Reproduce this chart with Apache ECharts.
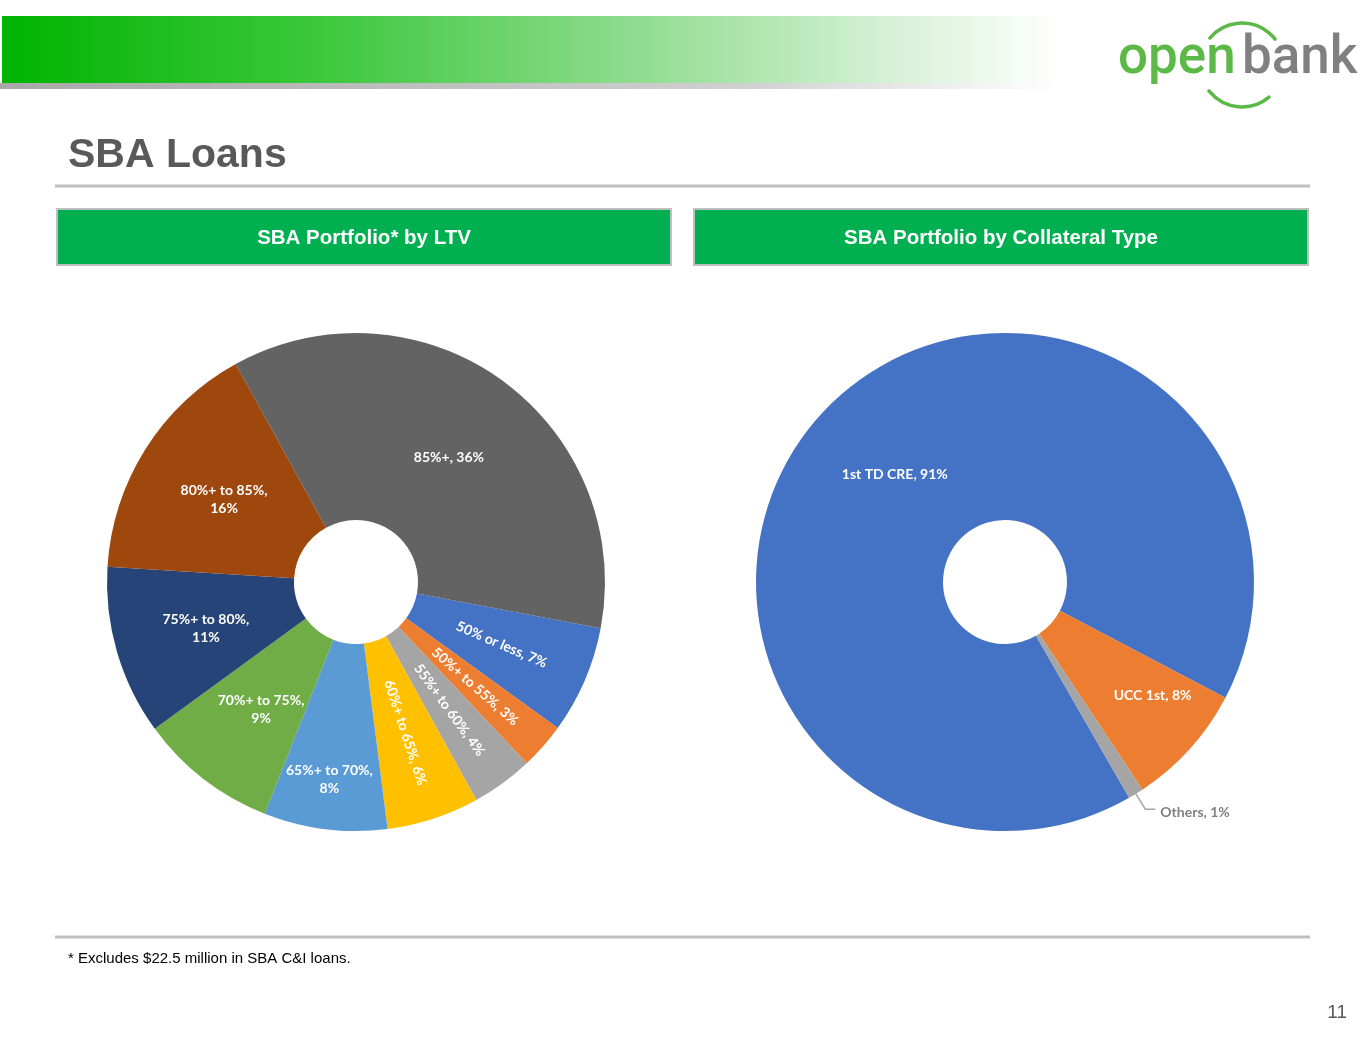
<!DOCTYPE html>
<html><head><meta charset="utf-8">
<script src="https://cdn.jsdelivr.net/npm/echarts@6/dist/echarts.min.js"></script>
<style>html,body{margin:0;padding:0;background:#fff}#c{width:1365px;height:1055px}</style>
</head><body><div id="c"></div>
<script>
// ---- data ----
const ltvCategories = ['50% or less', '50%+ to 55%', '55%+ to 60%', '60%+ to 65%', '65%+ to 70%', '70%+ to 75%', '75%+ to 80%', '80%+ to 85%', '85%+'];
const ltvValues = [7, 3, 4, 6, 8, 9, 11, 16, 36];
const collCategories = ['1st TD CRE', 'UCC 1st', 'Others'];
const collValues = [91, 8, 1];
const pageTitle = 'SBA Loans';
const leftTitle = 'SBA Portfolio* by LTV';
const rightTitle = 'SBA Portfolio by Collateral Type';
const footnote = '* Excludes $22.5 million in SBA C&I loans.';
const pageNumber = '11';

// ---- styles ----
const ltvColors = ['#4472C4', '#ED7D31', '#A5A5A5', '#FFC000', '#5B9BD5', '#70AD47', '#264478', '#9E480E', '#636363'];
const collColors = ['#4472C4', '#ED7D31', '#A5A5A5'];
const radialLabels = { '50% or less': 1, '50%+ to 55%': 1, '55%+ to 60%': 1, '60%+ to 65%': 1 };
const labelFont = { fontFamily: 'Lato', fontWeight: 'bold', fontSize: 14, color: '#ffffff', lineHeight: 18 };

const ltvData = ltvCategories.map((n, i) => {
  const d = { name: n, value: ltvValues[i], itemStyle: { color: ltvColors[i] } };
  if (radialLabels[n]) d.label = { rotate: 'radial', formatter: '{b}, {c}%' };
  else if (n === '85%+') d.label = { formatter: '{b}, {c}%', offset: [0, 4] };
  else d.label = { formatter: '{b},\n{c}%', offset: [2, 2] };
  if (n === '65%+ to 70%') d.label.offset = [-7, 40];
  return d;
});
const collData = collCategories.map((n, i) => {
  const d = { name: n, value: collValues[i], itemStyle: { color: collColors[i] } };
  if (n === '1st TD CRE') d.label = { offset: [4, 2] };
  if (n === 'UCC 1st') d.label = { offset: [30, 7] };
  if (n === 'Others') {
    d.label = { position: 'outside', color: '#808080', offset: [0, 3] };
    d.labelLine = { show: true, length: 18, length2: 10, lineStyle: { color: '#A6A6A6', width: 1.5 } };
  }
  return d;
});

const chart = echarts.init(document.getElementById('c'), null, { renderer: 'canvas' });
const logoFont = '500 53px Roboto, "Liberation Sans", sans-serif';
const option = {
  animation: false,
  backgroundColor: '#ffffff',
  series: [
    {
      type: 'pie', center: [356, 582], radius: [62, 249], startAngle: -10.7, clockwise: true,
      avoidLabelOverlap: false, silent: true,
      label: Object.assign({ show: true, position: 'inside' }, labelFont),
      labelLine: { show: false },
      itemStyle: { borderWidth: 0 },
      data: ltvData
    },
    {
      type: 'pie', center: [1005, 582], radius: [62, 249], startAngle: -60.1, clockwise: true,
      avoidLabelOverlap: false, silent: true,
      label: Object.assign({ show: true, position: 'inside', formatter: '{b}, {c}%' }, labelFont),
      labelLine: { show: false },
      itemStyle: { borderWidth: 0 },
      data: collData
    }
  ],
  graphic: [
    // header gradient bar
    { type: 'rect', shape: { x: 0, y: 83, width: 1060, height: 6 }, style: { fill: { type: 'linear', x: 0, y: 0, x2: 1, y2: 0, colorStops: [{ offset: 0, color: '#A8A8A8' }, { offset: 0.7, color: '#D0D0D0' }, { offset: 1, color: '#FFFFFF' }] } }, silent: true },
    { type: 'rect', shape: { x: 2, y: 16, width: 1058, height: 67 }, style: { fill: { type: 'linear', x: 0, y: 0, x2: 1, y2: 0, colorStops: [{ offset: 0, color: '#00B400' }, { offset: 0.3, color: '#3CC83C' }, { offset: 0.6, color: '#90DC90' }, { offset: 0.85, color: '#D8F2D8' }, { offset: 1, color: '#FFFFFF' }] } }, silent: true },
    // logo
    { type: 'arc', shape: { cx: 1242, cy: 65, r: 42, startAngle: 220 * Math.PI / 180, endAngle: 322 * Math.PI / 180 }, style: { stroke: '#5CB947', lineWidth: 3.5, fill: null, lineCap: 'round' }, silent: true },
    { type: 'arc', shape: { cx: 1242, cy: 65, r: 42, startAngle: 50 * Math.PI / 180, endAngle: 142 * Math.PI / 180 }, style: { stroke: '#5CB947', lineWidth: 3.5, fill: null, lineCap: 'round' }, silent: true },
    { type: 'text', x: 1118, y: 60, style: { text: 'open', fill: '#5CB947', font: logoFont, textVerticalAlign: 'middle' }, silent: true },
    { type: 'text', x: 1242, y: 60, style: { text: 'bank', fill: '#808080', font: logoFont, textVerticalAlign: 'middle' }, silent: true },
    // title
    { type: 'text', x: 68, y: 156, style: { text: pageTitle, fill: '#595959', font: 'bold 41px "Liberation Sans", Arial, sans-serif', textVerticalAlign: 'middle' }, silent: true },
    { type: 'rect', shape: { x: 55, y: 184.5, width: 1255, height: 3 }, style: { fill: '#BFBFBF' }, silent: true },
    // section headers
    { type: 'rect', shape: { x: 57, y: 209, width: 614, height: 56 }, style: { fill: '#00B050', stroke: '#BFBFBF', lineWidth: 2 }, silent: true },
    { type: 'text', x: 364, y: 238, style: { text: leftTitle, fill: '#ffffff', font: 'bold 20.5px "Liberation Sans", Arial, sans-serif', textAlign: 'center', textVerticalAlign: 'middle' }, silent: true },
    { type: 'rect', shape: { x: 694, y: 209, width: 614, height: 56 }, style: { fill: '#00B050', stroke: '#BFBFBF', lineWidth: 2 }, silent: true },
    { type: 'text', x: 1001, y: 238, style: { text: rightTitle, fill: '#ffffff', font: 'bold 20.5px "Liberation Sans", Arial, sans-serif', textAlign: 'center', textVerticalAlign: 'middle' }, silent: true },
    // footer
    { type: 'rect', shape: { x: 55, y: 935.5, width: 1255, height: 3 }, style: { fill: '#BFBFBF' }, silent: true },
    { type: 'text', x: 68, y: 959, style: { text: footnote, fill: '#000000', font: '15px "Liberation Sans", Arial, sans-serif', textVerticalAlign: 'middle' }, silent: true },
    { type: 'text', x: 1347, y: 1013, style: { text: pageNumber, fill: '#595959', font: '19px "Liberation Sans Narrow", "Liberation Sans", Arial, sans-serif', textAlign: 'right', textVerticalAlign: 'middle' }, silent: true }
  ]
};
chart.setOption(option);
</script>
</body></html>
